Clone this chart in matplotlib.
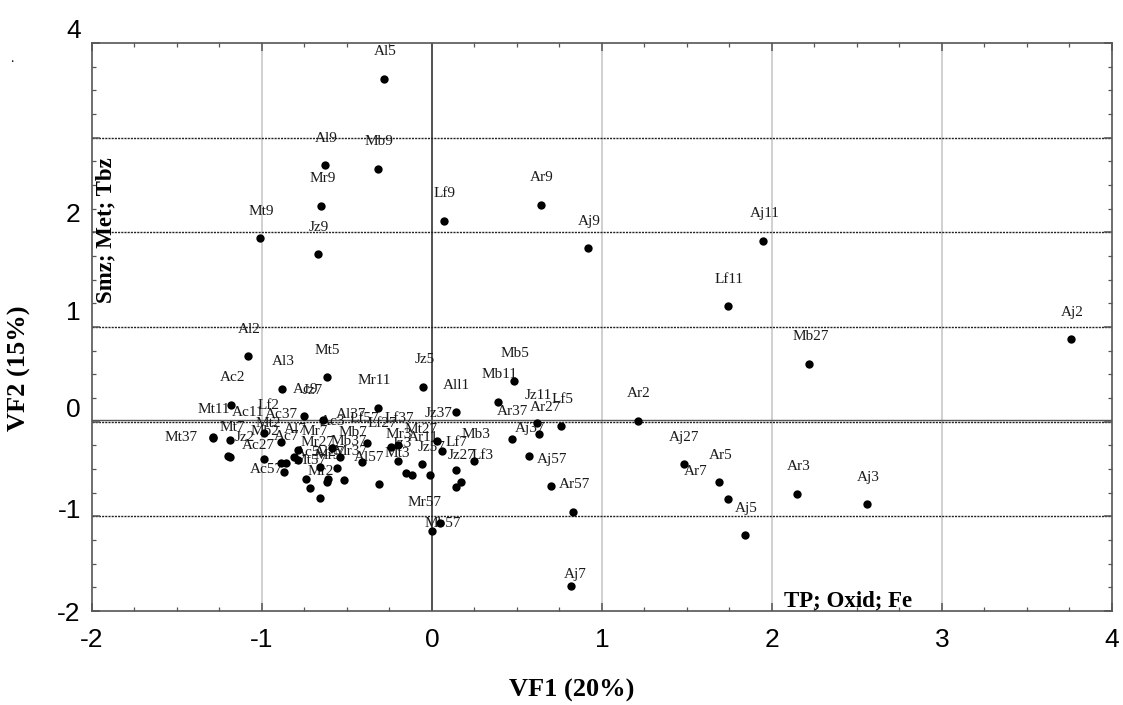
import numpy as np
import matplotlib.pyplot as plt
from matplotlib.ticker import MultipleLocator
from matplotlib.transforms import ScaledTranslation

plt.rcParams['font.family'] = ['Liberation Serif', 'DejaVu Serif']
plt.rcParams['axes.unicode_minus'] = False

# sample scores on the first two varifactors
labels = ['Al5', 'Al9', 'Mb9', 'Mr9', 'Mt9', 'Jz9', 'Lf9', 'Ar9', 'Aj9', 'Aj11',
          'Lf11', 'Mb27', 'Aj2', 'Ar2', 'Mb5', 'Mb11', 'Jz11', 'Lf5', 'Ar27', 'Ar37',
          'Aj37', 'Aj57', 'Ar57', 'Aj7', 'Mr57', 'Mb57', 'Aj27', 'Ar5', 'Ar7', 'Aj5',
          'Ar3', 'Aj3', 'Al2', 'Al3', 'Mt5', 'Ac2', 'Ac9', 'Jz7', 'Mr11', 'Jz5',
          'All1', 'Mt37', 'Mt11', 'Mt7', 'Ac11', 'Lf2', 'Mt2', 'Ac37', 'Jz2', 'Mb2',
          'Ac27', 'Ac7', 'Al7', 'Mr7', 'Ac57', 'Ac5', 'Mr27', 'Mb37', 'Mt57', 'Mr2',
          'Mr37', 'Ac3', 'Al37', 'Lf57', 'Lf37', 'Lf27', 'Jz37', 'Mt27', 'Mb7', 'Ar11',
          'Jz3', 'Mt3', 'Jz57', 'Lf7', 'Mb3', 'Jz27', 'Lf3', 'Al57', 'Mr3', 'Mr5',
          'Al27']
vf1 = [-0.28, -0.63, -0.32, -0.65, -1.01, -0.67, 0.07, 0.64, 0.92, 1.95,
       1.74, 2.22, 3.76, 1.21, 0.48, 0.39, 0.62, 0.76, 0.63, 0.47,
       0.57, 0.70, 0.83, 0.82, 0.00, 0.05, 1.48, 1.69, 1.74, 1.84,
       2.15, 2.56, -1.08, -0.88, -0.62, -1.18, -0.75, -0.64, -0.32, -0.05,
       0.14, -1.29, -1.29, -1.20, -1.19, -0.99, -0.79, -0.89, -1.19, -0.99,
       -0.89, -0.86, -0.81, -0.79, -0.87, -0.74, -0.66, -0.56, -0.72, -0.66,
       -0.52, -0.59, -0.54, -0.38, -0.20, -0.24, 0.03, 0.06, -0.41, -0.06,
       -0.15, -0.12, -0.01, 0.14, 0.25, 0.17, 0.14, -0.31, -0.20, -0.62,
       -0.61]
vf2 = [3.62, 2.71, 2.67, 2.28, 1.94, 1.77, 2.12, 2.29, 1.83, 1.91,
       1.22, 0.61, 0.87, 0.01, 0.43, 0.21, -0.01, -0.05, -0.13, -0.18,
       -0.36, -0.68, -0.95, -1.74, -1.15, -1.07, -0.45, -0.64, -0.82, -1.20,
       -0.76, -0.87, 0.69, 0.35, 0.47, 0.18, 0.06, 0.02, 0.14, 0.37,
       0.10, -0.17, -0.16, -0.36, -0.19, -0.12, -0.30, -0.21, -0.37, -0.39,
       -0.44, -0.44, -0.37, -0.40, -0.53, -0.61, -0.48, -0.49, -0.70, -0.81,
       -0.62, -0.28, -0.37, -0.23, -0.25, -0.27, -0.20, -0.31, -0.43, -0.45,
       -0.54, -0.56, -0.56, -0.51, -0.42, -0.64, -0.69, -0.66, -0.42, -0.64,
       -0.61]

x_ticks = [-2, -1, 0, 1, 2, 3, 4]
x_ticklabels = ['-2', '-1', '0', '1', '2', '3', '4']
y_ticks = [-2, -1, 0, 1, 2, 3, 4]
y_ticklabels = ['-2', '-1', '0', '1', '2', '', '4']

# label nudges in pixels where the default spot (just above the dot) is not used
label_shift = {
    'Aj7': (4, 12), 'Ar7': (-32, 28), 'Ar27': (6, 26),
    'Mr57': (-7, 28), 'Mb57': (2, -1), 'Mr11': (-3, 28),
    'Jz7': (-10, 29), 'Mt37': (-32, 0), 'Ac11': (18, 27), 'Mt7': (4, 28),
    'Jz2': (15, 19), 'Lf2': (5, 28), 'Mt2': (-29, 27), 'Ac27': (-22, 18),
    'Mr7': (17, 28), 'Ac57': (-18, 2), 'Mb37': (12, 27), 'Al37': (11, 42),
    'Mb7': (-9, 30), 'Lf57': (-3, 25), 'Lf27': (-9, 24), 'Mt27': (-21, 22),
    'Jz3': (-5, 29), 'Mt3': (-14, 21), 'Lf3': (27, 32), 'Al57': (-10, 27),
    'Mr37': (7, 29), 'Mr27': (-2, 25),
}

fig = plt.figure(figsize=(11.23, 7.05), dpi=100)
ax = fig.add_axes([0.0819, 0.1333, 0.9083, 0.8057])

ax.set_xlim(-2, 4)
ax.set_ylim(-2, 4)

# reference lines
for gx in [-1, 1, 2, 3]:
    ax.axvline(gx, color='#c4c4c4', lw=1.1, zorder=1)
ax.axvline(0, color='#333333', lw=1.2, zorder=1)
for gy in [-1, 0, 1, 2, 3]:
    ax.axhline(gy, color='#222222', lw=1.0, ls=(0, (1.5, 0.8)), zorder=1)
ax.axhline(0.022, color='#555555', lw=1.0, zorder=1)

for name, x, y in zip(labels, vf1, vf2):
    dx, dy = label_shift.get(name, (1, 27))
    ax.annotate(name, (x, y), xytext=(dx, dy), textcoords='offset pixels',
                ha='center', va='center', fontsize=11, color='#1a1a1a', zorder=3)

# dots go over the labels
ax.scatter(vf1, vf2, s=36, color='black', zorder=4, linewidths=0)

ax.text(-1.92, 2.02, 'Smz; Met; Tbz', rotation=90, ha='center', va='center',
        fontsize=16.5, fontweight='bold')
ax.text(2.45, -1.89, 'TP; Oxid; Fe', ha='center', va='center',
        fontsize=16.5, fontweight='bold')

ax.set_xlabel('VF1 (20%)', fontsize=19, fontweight='bold')
ax.xaxis.set_label_coords(0.47, -0.12)
ax.set_ylabel('VF2 (15%)', fontsize=19, fontweight='bold')
ax.yaxis.set_label_coords(-0.06, 0.428)

ax.set_xticks(x_ticks)
ax.set_xticklabels(x_ticklabels)
ax.set_yticks(y_ticks)
ax.set_yticklabels(y_ticklabels)
ax.xaxis.set_minor_locator(MultipleLocator(0.25))
ax.yaxis.set_minor_locator(MultipleLocator(0.25))
ax.tick_params(which='both', direction='in', top=True, right=True, colors='#555555')
ax.tick_params(which='major', length=6, width=1.1, labelsize=19, labelcolor='black')
ax.tick_params(which='minor', length=3, width=0.9)
ax.tick_params(axis='x', pad=12)
ax.tick_params(axis='y', pad=8)
for lab in ax.get_xticklabels() + ax.get_yticklabels():
    lab.set_family(['Liberation Sans', 'DejaVu Sans'])

# the y tick labels sit a little above their grid lines
y_lift = {'4': 15, '2': 20, '1': 17, '0': 14, '-1': 8, '-2': 0}
for lab in ax.get_yticklabels():
    lift = y_lift.get(lab.get_text(), 0)
    lab.set_transform(lab.get_transform() + ScaledTranslation(0, lift / 100, fig.dpi_scale_trans))

for sp in ax.spines.values():
    sp.set_color('#555555')
    sp.set_linewidth(1.2)

fig.text(0.009, 0.912, '.', fontsize=10)

fig.savefig('out.png', dpi=100)
